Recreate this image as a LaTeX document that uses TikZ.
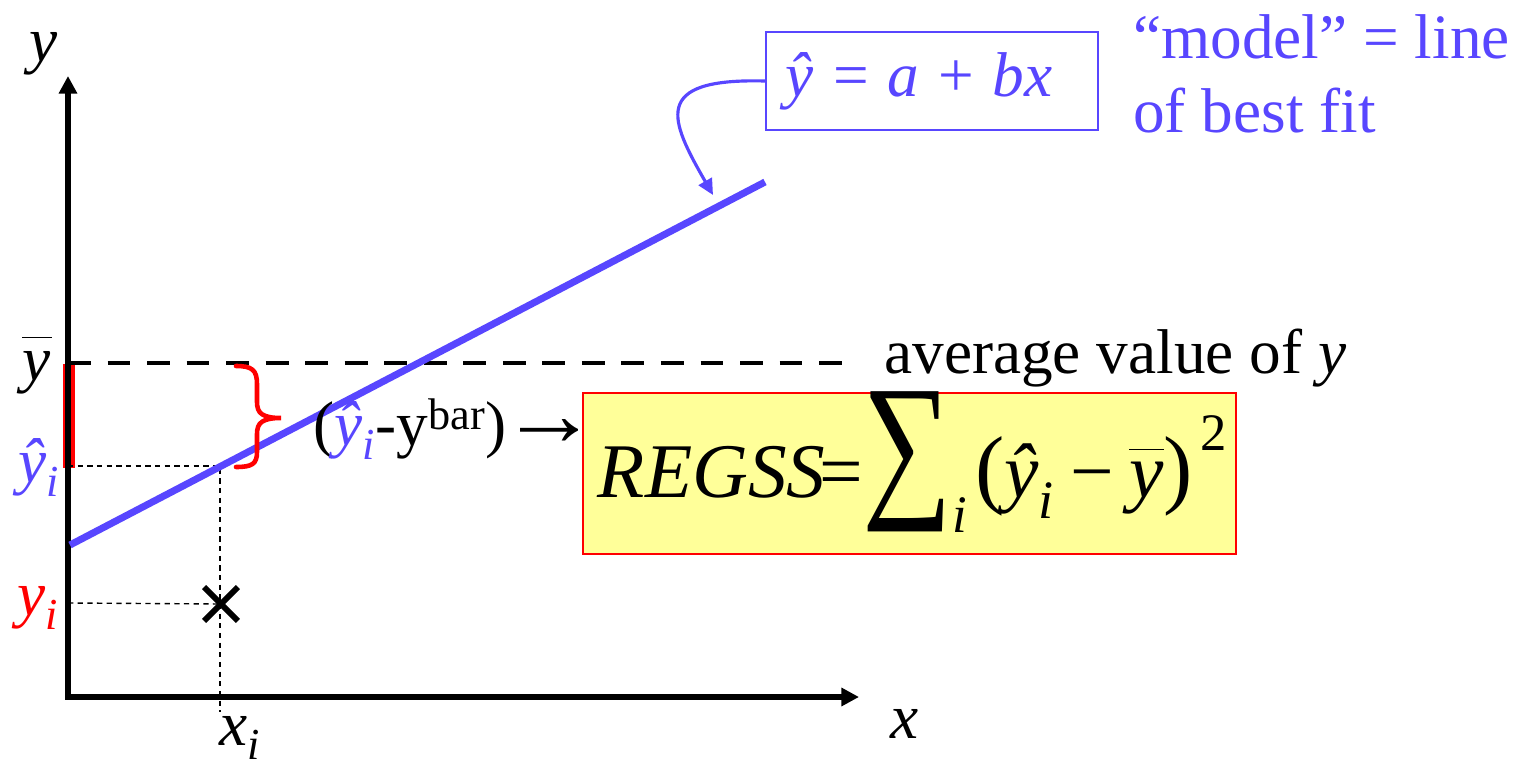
\documentclass[tikz,border=0pt]{standalone}
\usepackage{fontspec}
\setmainfont{Liberation Serif}
\usetikzlibrary{arrows.meta,shapes.misc}
\definecolor{modelblue}{RGB}{88,70,255}
\definecolor{formulabg}{RGB}{255,255,153}
\tikzset{
  axis/.style={line width=3.4pt,{Triangle[length=10pt,width=10pt]}-{Triangle[length=10pt,width=10pt]}},
  fitline/.style={line width=4pt,modelblue},
  guide/.style={line width=0.8pt,dash pattern=on 3pt off 2.5pt},
  avgline/.style={line width=2.4pt,dash pattern=on 13pt off 9.5pt},
  lbl/.style={inner sep=0pt,font=\fontsize{36}{42.5}\selectfont},
  callout/.style={modelblue,line width=1.8pt,-{Triangle[length=9pt,width=8.5pt]}},
  bracket/.style={red,line width=2.6pt,line cap=round},
  sumbox/.style={draw=red,line width=1.1pt,fill=formulabg,inner ysep=0pt,inner xsep=0.3cm,
    text width=12.46cm,text height=2.1cm,text depth=1.12cm,align=left},
  eqbox/.style={draw=modelblue,line width=1.1pt,minimum height=1.96cm,text width=5.84cm,inner xsep=0.4cm,align=left}
}
\begin{document}
\begin{tikzpicture}[x=0.02cm,y=-0.02cm]
\useasboundingbox (0,0) rectangle (1525,767);

\coordinate (origin) at (68,697);
\coordinate (ytop) at (68,76);
\coordinate (xend) at (859,697);
\coordinate (ybar) at (68,363);
\coordinate (avgend) at (855,363);
\coordinate (yhat) at (68,466);
\coordinate (redtop) at (69,364);
\coordinate (redbot) at (69,468);
\coordinate (fitstart) at (70,545);
\coordinate (fitend) at (765,182);
\coordinate (onfit) at (220,466);
\coordinate (xfoot) at (220,712);
\coordinate (yobs) at (68,603);
\coordinate (tip) at (713,195);

\draw[red,line width=6.8pt] (redtop) -- (redbot);
\draw[axis] (ytop) -- (origin) -- (xend);
\draw[avgline] (ybar) -- (avgend);
\draw[guide] (yhat) -- (onfit) -- (xfoot);
\node[cross out,draw,line width=3.3pt,minimum size=0.56cm,inner sep=0pt] (obs) at (221,604) {};
\draw[guide] (yobs) -- (obs.center);
\draw[fitline] (fitstart) -- (fitend);
\draw[bracket] (236,366) .. controls (252,366) and (257,370) .. (257,384) -- (257,402)
  .. controls (257,413) and (262,418) .. (281,418)
  .. controls (262,418) and (257,423) .. (257,434) -- (257,452)
  .. controls (257,464) and (252,467) .. (236,467);

\node[sumbox,anchor=north west] (regss) at (582,392) {\mbox{\fontsize{44}{50}\selectfont\textit{REGSS}\kern-0.08em={\fontsize{92}{92}\selectfont\scalebox{0.78}[1]{∑}}\raisebox{-0.45em}{\fontsize{30}{30}\selectfont\textit{i}}\hspace{0.1em}{\fontsize{50}{50}\selectfont(}\textit{ŷ}\textsubscript{\textit{i}}\hspace{0.2em}−\hspace{0.2em}$\overline{\rule{0pt}{0.6em}\textit{y}}${\fontsize{50}{50}\selectfont)}\hspace{0.1em}\raisebox{0.62em}{\fontsize{30}{30}\selectfont 2}}};

\node[lbl,anchor=base] (ylab) at (44,62) {\textit{y}};
\node[lbl,anchor=base] (xlab) at (905,738) {\textit{x}};
\node[lbl,anchor=base west] (xilab) at (219,745) {\textit{x}\textsubscript{\textit{i}}};
\node[lbl,anchor=base] (ybarlab) at (37,380) {$\overline{\rule{0pt}{0.64em}\textit{y}\kern1pt}$};
\node[lbl,anchor=base west,modelblue] (yhatlab) at (18,482) {\textit{ŷ}\textsubscript{\textit{i}}};
\node[lbl,anchor=base west,red] (yilab) at (17,615) {\textit{y}\textsubscript{\textit{i}}};
\node[lbl,anchor=base west] (avglab) at (884,373) {average value of \textit{y}};
\node[lbl,anchor=base west] (difflab) at (313,445) {(\textcolor{modelblue}{\textit{ŷ}\textsubscript{\textit{i}}}-y\textsuperscript{bar})\hspace{-0.1em}\scalebox{1.55}[1.45]{→}};

\node[eqbox,anchor=west,modelblue,font=\fontsize{36}{42}\selectfont] (fitbox) at (765,81) {\textit{ŷ}\hspace{0.3em}=\hspace{0.3em}\textit{a}\hspace{0.3em}+\hspace{0.3em}\textit{bx}};
\node[lbl,anchor=north west,modelblue,align=left] (modellab) at (1133,14) {“model” = line\\of best fit};

\draw[callout] (fitbox.west) .. controls (650,78) and (670,120) .. (tip);
\end{tikzpicture}
\end{document}
